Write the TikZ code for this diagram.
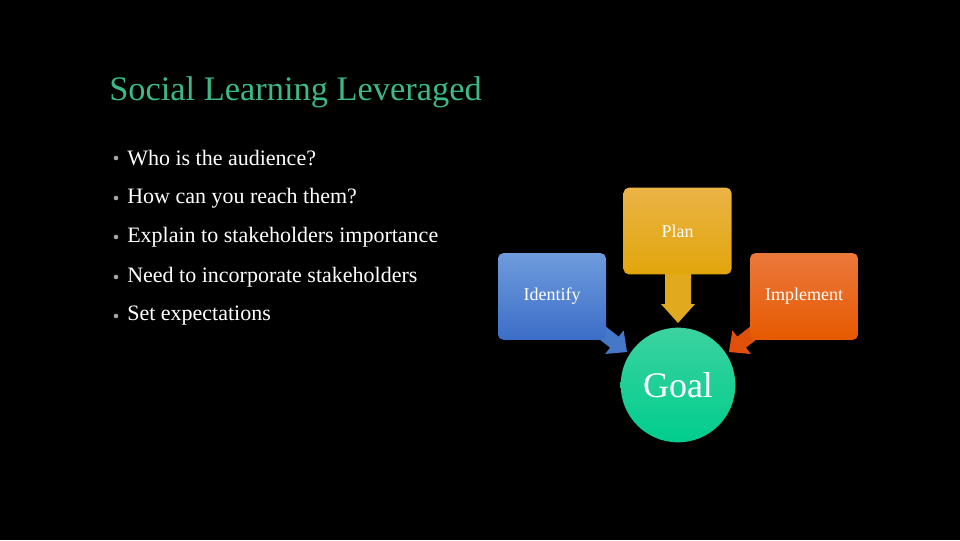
\documentclass[tikz,border=0pt]{standalone}
\usepackage{fontspec}
\setmainfont{Liberation Serif}
\definecolor{ttl}{RGB}{60,185,135}
\definecolor{blueA}{RGB}{110,155,220}
\definecolor{blueB}{RGB}{60,110,200}
\definecolor{blueC}{RGB}{70,120,200}
\definecolor{yelA}{RGB}{235,180,70}
\definecolor{yelB}{RGB}{225,165,10}
\definecolor{yelC}{RGB}{225,170,30}
\definecolor{orA}{RGB}{235,120,60}
\definecolor{orB}{RGB}{230,90,0}
\definecolor{orC}{RGB}{225,80,10}
\definecolor{grA}{RGB}{60,210,160}
\definecolor{grB}{RGB}{0,205,140}
\begin{document}
\begin{tikzpicture}[x=0.75pt,y=-0.75pt,
  box/.style={rounded corners=4pt,minimum width=81pt,minimum height=65pt,text=white,font=\fontsize{13.5}{16}\selectfont,inner sep=0pt},
  bul/.style={anchor=west,text=white,font=\fontsize{16.5}{19}\selectfont,inner sep=0pt}]
\fill[black] (0,0) rectangle (960,540);
\useasboundingbox (0,0) rectangle (960,540);
\node[anchor=west,text=ttl,font=\fontsize{25.8}{29}\selectfont,inner sep=0pt] (title) at (109,92) {Social Learning Leveraged};
\foreach \y/\t [count=\i] in {158/Who is the audience?,198/How can you reach them?,237/Explain to stakeholders importance,277/Need to incorporate stakeholders,316/Set expectations}{
  \node[bul] (b\i) at (127,\y) {\t};
  \fill[gray!70] (116,\y) circle (2.3);
}
\newcommand\blockarrow[3]{\fill[#3,shift={#1},rotate=#2] (-55,-7) -- (-16,-7) -- (-16,-15) -- (0,0) -- (-16,15) -- (-16,7) -- (-55,7) -- cycle;}
\blockarrow{(627,352)}{-38}{blueC}
\blockarrow{(729,352)}{-142}{orC}
\fill[yelC] (665,272) -- (691,272) -- (691,304) -- (695,304) -- (678,323) -- (661,304) -- (665,304) -- cycle;
\node[box,top color=blueA,bottom color=blueB] (identify) at (552,296.5) {Identify};
\node[box,top color=yelA,bottom color=yelB] (plan) at (677.5,231) {Plan};
\node[box,top color=orA,bottom color=orB] (implement) at (804,296.5) {Implement};
\node[circle,minimum size=86pt,inner sep=0pt,top color=grA,bottom color=grB,text=white,font=\fontsize{27}{30}\selectfont] (goal) at (678,385) {Goal};
\end{tikzpicture}
\end{document}
